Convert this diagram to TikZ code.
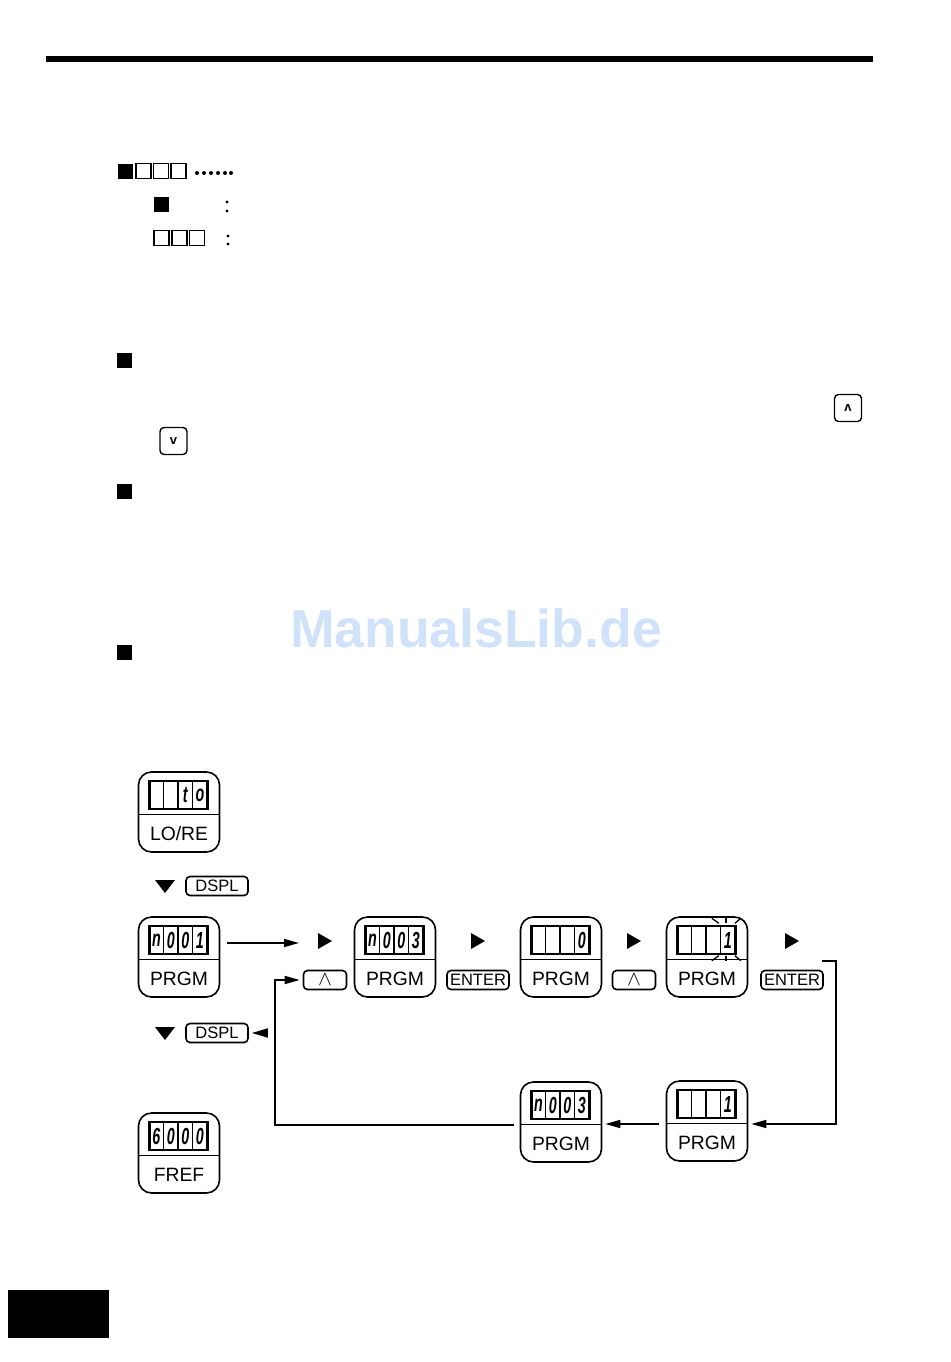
\documentclass[tikz,border=0pt]{standalone}
\usepackage{fontspec}
\setmainfont{Liberation Sans}
\usetikzlibrary{positioning, arrows.meta, calc}
\definecolor{markblue}{HTML}{CFE2FA}

% panel name, centre, caption, four digits
\newcommand{\panel}[8]{
  \node[panelbox] (#1) at (#2,#3) {};
  \draw[thin line] (#1.west |- 0,#3+2) -- (#1.east |- 0,#3+2);
  \node[caption] (#1cap) at (#2,#3+22) {#4};
  \node[lcdbox] (#1lcd) at (#2,#3-17) {};
  \foreach \k/\digit in {1/#5,2/#6,3/#7,4/#8} {
    \node[lcdcell] (#1c\k) at ($(#1lcd.west)+(14.5*\k-7.25,0)$) {\scalebox{.95}[1.55]{\digit}};
  }
}

\begin{document}
\begin{tikzpicture}[
    x=1pt,
    y=-1pt,
    >={Triangle[length=15pt,width=8pt]},
    panelbox/.style={draw, line width=1.6pt, rounded corners=13pt, minimum width=81pt, minimum height=80pt, inner sep=0pt},
    thin line/.style={line width=0.9pt},
    caption/.style={font=\fontsize{19.3}{20}\selectfont, inner sep=0pt},
    lcdbox/.style={draw, line width=1.8pt, minimum width=58pt, minimum height=28pt, inner sep=0pt},
    lcdcell/.style={draw, line width=1.4pt, minimum width=14.5pt, minimum height=28pt, inner sep=0pt, font=\fontsize{15}{15}\itshape\bfseries\selectfont},
    keybox/.style={draw, line width=1.6pt, rounded corners=4pt, inner sep=0pt, text height=11pt, text depth=0pt, minimum height=19pt, font=\fontsize{16.5}{17}\selectfont},
    upbox/.style={draw, line width=1.6pt, rounded corners=4pt, inner sep=0pt, minimum width=43pt, minimum height=19pt},
    upsign/.style={inner sep=0pt, font=\fontsize{20}{20}\selectfont},
    smallkey/.style={draw, line width=1.4pt, rounded corners=4pt, inner sep=0pt, minimum width=27pt, minimum height=27pt, font=\fontsize{13}{13}\bfseries\selectfont},
    flow/.style={line width=1.5pt},
    ray/.style={line width=1.3pt},
    mark sq/.style={fill, minimum size=15pt, inner sep=0pt},
    open sq/.style={draw, line width=1.1pt, minimum size=15pt, inner sep=0pt}
  ]
  \useasboundingbox (0,0) rectangle (950,1362);

  % --- PAGE FURNITURE ---
  \fill (46,56.5) rectangle (873,62);
  \fill (8,1290) rectangle (109,1338);
  \node[font=\bfseries\fontsize{53.5}{54}\selectfont, text=markblue, inner sep=0pt] (mark) at (476,628) {ManualsLib.de};

  % --- TEXT PAGE MARKS ---
  \node[mark sq] (a0) at (125.5,171) {};
  \node[open sq] (a1) at (143.5,171) {};
  \node[open sq] (a2) at (161,171) {};
  \node[open sq] (a3) at (178.5,171) {};
  \foreach \x in {197,204,211,218,225,231} {
    \fill (\x,173) circle (2pt);
  }
  \node[mark sq] (b0) at (161.5,204) {};
  \fill (227,202) circle (1.6pt) (227,211) circle (1.6pt);
  \node[open sq] (c1) at (161.5,238) {};
  \node[open sq] (c2) at (179.5,238) {};
  \node[open sq] (c3) at (197,238) {};
  \fill (228,236) circle (1.6pt) (228,244) circle (1.6pt);
  \node[mark sq] (d0) at (124.5,360) {};
  \node[mark sq] (d1) at (124.5,491) {};
  \node[mark sq] (d2) at (124.5,652) {};
  \node[smallkey] (upkey) at (848,408) {\scalebox{1}[-1]{v}};
  \node[smallkey] (downkey) at (173.5,441) {v};

  % --- PANELS ---
  \panel{lore}{179}{812}{LO/RE}{}{}{t}{o}
  \panel{pa}{179}{957}{PRGM}{n}{0}{0}{1}
  \panel{pb}{395}{957}{PRGM}{n}{0}{0}{3}
  \panel{pc}{561}{957}{PRGM}{}{}{}{0}
  \panel{pd}{707}{957}{PRGM}{}{}{}{1}
  \panel{pe}{707}{1121}{PRGM}{}{}{}{1}
  \panel{pf}{561}{1122}{PRGM}{n}{0}{0}{3}
  \panel{fref}{179}{1153}{FREF}{6}{0}{0}{0}

  % flashing digit
  \foreach \a/\b in {-16/-9,-2/-2,13/7} {
    \draw[ray] ($(pdc4.north)+(\a,-7)$) -- ($(pdc4.north)+(\b,-2)$);
    \draw[ray] ($(pdc4.south)+(\a,6)$) -- ($(pdc4.south)+(\b,1)$);
  }

  % --- KEYS ---
  \node[keybox, minimum width=62pt] (dsplA) at (217,886) {DSPL};
  \node[keybox, minimum width=62pt] (dsplB) at (217,1033) {DSPL};
  \node[upbox] (upA) at (325,980) {};
  \node[upbox] (upB) at (634,980) {};
  \node[keybox, minimum width=62pt] (entA) at (478,980) {ENTER};
  \node[keybox, minimum width=62pt] (entB) at (792,980) {ENTER};
  \node[upsign] (upAsign) at (325,980) {$\wedge$};
  \node[upsign] (upBsign) at (634,980) {$\wedge$};

  % --- TRIANGLES ---
  \fill (155,880) -- (175,880) -- (165,893) -- cycle;
  \fill (155,1027) -- (175,1027) -- (165,1040) -- cycle;
  \foreach \x in {318,471,627,785} {
    \fill (\x,933) -- (\x+14,941) -- (\x,949) -- cycle;
  }

  % --- CONNECTORS ---
  \coordinate (run) at (299,943);
  \coordinate (backstart) at (514,1125);
  \coordinate (midstart) at (659,1124);
  \coordinate (entstart) at (822,961);
  \coordinate (tipstart) at (268,1033);
  \draw[flow,->] ($(pa.east |- run)+(7,0)$) -- (run);
  \draw[flow,-{Triangle[length=16pt,width=9pt]},shorten >=3pt] (tipstart) -- (dsplB.east);
  \draw[flow,->,shorten >=3pt] (backstart) -- (275,1125) -- (275,980) -- (upA.west);
  \draw[flow,->,shorten >=3pt] (midstart) -- (pf.east |- midstart);
  \draw[flow,->,shorten >=3pt] (entstart) -- (836,961) -- (836,1124) -- (pe.east |- 0,1124);

\end{tikzpicture}
\end{document}
